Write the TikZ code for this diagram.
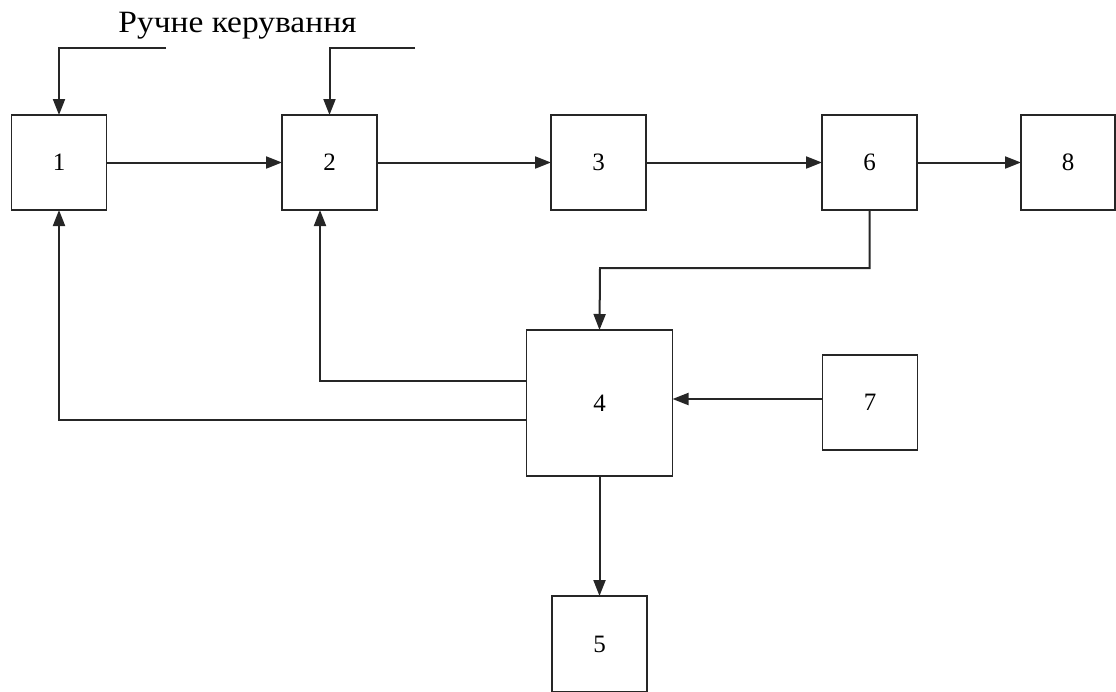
\documentclass[tikz,border=0pt]{standalone}
\usepackage{fontspec}
\setmainfont{Liberation Serif}
\usetikzlibrary{arrows.meta}
\begin{document}
\begin{tikzpicture}[x=1pt,y=-1pt,
  blk/.style={draw=black!85,line width=1.5pt,minimum width=95pt,minimum height=95pt,
    inner sep=0pt,outer sep=0pt,font=\fontsize{25}{28}\selectfont},
  conn/.style={draw=black!85,line width=2pt},
  arr/.style={conn,-{Triangle[length=16pt,width=12pt]}}]
\useasboundingbox (0,0) rectangle (1116,691);
% blocks
\node[blk] (b1) at (59,162.5) {1};
\node[blk] (b2) at (329.5,162.5) {2};
\node[blk] (b3) at (598.5,162.5) {3};
\node[blk] (b6) at (869.5,162.5) {6};
\node[blk,minimum width=94pt] (b8) at (1068,162.5) {8};
\node[blk,minimum width=146pt,minimum height=146pt] (b4) at (599.5,403) {4};
\node[blk] (b7) at (870,402.5) {7};
\node[blk,minimum height=96pt] (b5) at (599.5,644) {5};
% manual control inputs
\node[font=\fontsize{31}{34}\selectfont,anchor=base,xscale=1.08] (lbl) at (237.5,32) {Ручне керування};
\coordinate (m1) at (166,48);
\coordinate (m2) at (415,48);
\draw[arr] (m1) -| (b1.north);
\draw[arr] (m2) -| (b2.north);
% main chain
\draw[arr] (b1) -- (b2);
\draw[arr] (b2) -- (b3);
\draw[arr] (b3) -- (b6);
\draw[arr] (b6) -- (b8);
% feedback paths
\draw[arr] (b6.south) |- (600,268) -- (b4.north);
\draw[arr] (b4.west |- 0,381) -| (320,0 |- b2.south);
\draw[arr] (b4.west |- 0,420) -| (b1.south);
\draw[arr] (b7.west |- 0,399) -- (b4.east |- 0,399);
\draw[arr] (b4) -- (b5);
\end{tikzpicture}
\end{document}
